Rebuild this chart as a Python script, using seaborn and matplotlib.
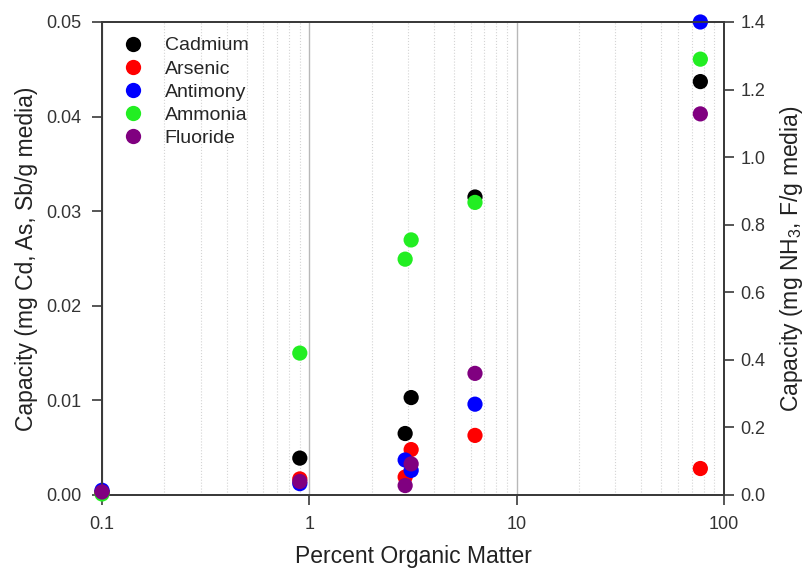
import numpy as np
import pandas as pd
import seaborn as sns
import matplotlib.pyplot as plt
from matplotlib.ticker import LogLocator, FixedLocator, NullFormatter, FormatStrFormatter
from matplotlib.lines import Line2D

# percent organic matter of each media
organic = [0.1, 0.9, 2.9, 3.1, 6.3, 77]

# left axis: mg Cd, As, Sb / g media
cadmium = [0.0003, 0.0039, 0.0065, 0.0103, 0.0315, 0.0437]
arsenic = [0.0003, 0.0017, 0.0019, 0.0048, 0.0063, 0.0028]
antimony = [0.0005, 0.0012, 0.0037, 0.0026, 0.0096, 0.0500]

# right axis: mg NH3, F / g media
ammonia = [0.003, 0.42, 0.698, 0.755, 0.866, 1.29]
fluoride = [0.009, 0.04, 0.028, 0.092, 0.36, 1.128]

names = ["Cadmium", "Arsenic", "Antimony", "Ammonia", "Fluoride"]
colors = {"Cadmium": "#000000", "Arsenic": "#ff0000", "Antimony": "#0000ff",
          "Ammonia": "#22ee22", "Fluoride": "#800080"}

left = pd.DataFrame({"om": organic * 3,
                     "cap": cadmium + arsenic + antimony,
                     "metal": ["Cadmium"] * 6 + ["Arsenic"] * 6 + ["Antimony"] * 6})
right = pd.DataFrame({"om": organic * 2,
                      "cap": ammonia + fluoride,
                      "metal": ["Ammonia"] * 6 + ["Fluoride"] * 6})

sns.set_style("ticks")
plt.rcParams["font.family"] = ["Liberation Sans", "DejaVu Sans"]
plt.rcParams["mathtext.fontset"] = "custom"
plt.rcParams["mathtext.rm"] = "Liberation Sans"

fig = plt.figure(figsize=(8.07, 5.71), dpi=100)
ax = fig.add_axes([0.1264, 0.1331, 0.7706, 0.8284])
ax2 = ax.twinx()

sns.scatterplot(data=left, x="om", y="cap", hue="metal", palette=colors, s=120,
                linewidth=0, ax=ax, legend=False, clip_on=False, zorder=3)
sns.scatterplot(data=right, x="om", y="cap", hue="metal", palette=colors, s=120,
                linewidth=0, ax=ax2, legend=False, clip_on=False, zorder=3)

ax.set_xscale("log")
ax.set_xlim(0.1, 100)
ax.set_ylim(0, 0.05)
ax2.set_ylim(0, 1.4)

ax.xaxis.set_major_locator(FixedLocator([0.1, 1, 10, 100]))
ax.xaxis.set_major_formatter(FormatStrFormatter("%g"))
ax.xaxis.set_minor_locator(LogLocator(base=10, subs=np.arange(2, 10)))
ax.xaxis.set_minor_formatter(NullFormatter())
ax.set_yticks(np.arange(0, 0.051, 0.01))
ax.yaxis.set_major_formatter(FormatStrFormatter("%.2f"))
ax2.set_yticks(np.arange(0, 1.41, 0.2))
ax2.yaxis.set_major_formatter(FormatStrFormatter("%.1f"))

ax.grid(True, which="major", axis="x", color="#b8b8b8", linewidth=1.0)
ax.grid(True, which="minor", axis="x", color="#d4d4d4", linewidth=0.8, linestyle=":")
ax.set_axisbelow(True)

for a in (ax, ax2):
    for sp in a.spines.values():
        sp.set_color("#3a3a3a")
        sp.set_linewidth(1.3)
    a.tick_params(which="major", direction="out", length=7, width=1.2,
                  color="#3a3a3a", labelsize=13, labelcolor="#333333")
    a.tick_params(which="minor", length=0)
ax.tick_params(axis="y", pad=8)
ax.tick_params(axis="x", pad=8)
ax2.tick_params(axis="y", pad=5)

ax.set_xlabel("Percent Organic Matter", fontsize=16.5, color="#222222", labelpad=9)
ax.set_ylabel("Capacity (mg Cd, As, Sb/g media)", fontsize=16.5, color="#222222",
              labelpad=6)
ax2.set_ylabel("Capacity (mg NH$_3$, F/g media)", fontsize=16.5, color="#222222",
               labelpad=9)
ax2.set_xlabel("")

handles = [Line2D([], [], marker="o", linestyle="", markersize=11,
                  markerfacecolor=colors[n], markeredgewidth=0) for n in names]
ax.legend(handles, names, loc="upper left", frameon=False, fontsize=14,
          bbox_to_anchor=(-0.010, 1.0056), handletextpad=0.65, labelspacing=0.28,
          borderpad=0.4)

fig.savefig("out.png", dpi=100)
